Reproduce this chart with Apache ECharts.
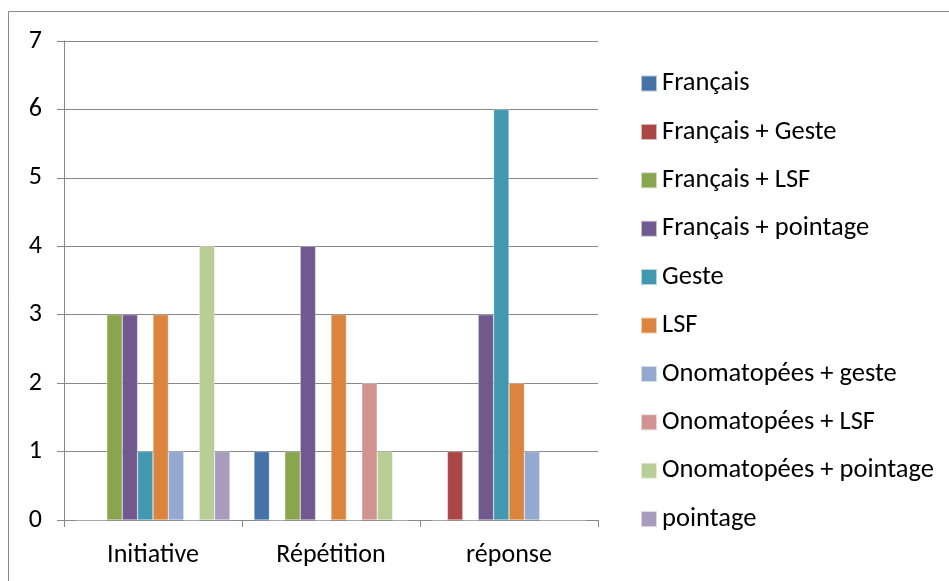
<!DOCTYPE html>
<html lang="fr">
<head>
<meta charset="UTF-8">
<title>Graphique</title>
<script src="https://cdn.jsdelivr.net/npm/echarts@6/dist/echarts.min.js"></script>
<style>
  html, body { margin: 0; padding: 0; background: #fff; }
  #chart { width: 949px; height: 581px; }
</style>
</head>
<body>
<div id="chart"></div>
<script>
// categories (axe x)
var categories = ['Initiative', 'Répétition', 'réponse'];

// séries, une par modalité
var seriesNames = [
  'Français', 'Français + Geste', 'Français + LSF', 'Français + pointage', 'Geste',
  'LSF', 'Onomatopées + geste', 'Onomatopées + LSF', 'Onomatopées + pointage', 'pointage'
];
var francais        = [0, 1, 0];
var francaisGeste   = [0, 0, 1];
var francaisLSF     = [3, 1, 0];
var francaisPoint   = [3, 4, 3];
var geste           = [1, 0, 6];
var lsf             = [3, 3, 2];
var onomGeste       = [1, 0, 1];
var onomLSF         = [0, 2, 0];
var onomPoint       = [4, 1, 0];
var pointage        = [1, 0, 0];

var colors = ['#4572A7', '#AA4643', '#89A54E', '#71588F', '#4198AF',
              '#DB843D', '#93A9CF', '#D19392', '#B9CD96', '#A99BBD'];

var allData = [francais, francaisGeste, francaisLSF, francaisPoint, geste,
               lsf, onomGeste, onomLSF, onomPoint, pointage];

var font = 'Carlito, "Open Sans", "Noto Sans", sans-serif';

var chart = echarts.init(document.getElementById('chart'));
chart.setOption({
  animation: false,
  color: colors,
  textStyle: { fontFamily: font },
  graphic: [{
    type: 'rect',
    shape: { x: 8.5, y: 11.5, width: 960, height: 580 },
    style: { fill: 'none', stroke: '#888', lineWidth: 1 },
    silent: true
  }],
  grid: { left: 64, right: 351, top: 41, bottom: 61 },
  legend: {
    orient: 'vertical',
    left: 635,
    top: 65,
    itemWidth: 16,
    itemHeight: 16,
    itemGap: 21.4,
    icon: 'rect',
    textStyle: { fontSize: 26.5, color: '#000', fontFamily: font },
    data: seriesNames
  },
  xAxis: {
    type: 'category',
    data: categories,
    axisLine: { lineStyle: { color: '#888', width: 1 } },
    axisTick: { show: true, length: 7, lineStyle: { color: '#888' } },
    axisLabel: { fontSize: 26, color: '#000', margin: 22 },
    splitLine: { show: false }
  },
  yAxis: {
    type: 'value',
    min: 0, max: 7, interval: 1,
    axisLine: { show: true, lineStyle: { color: '#888', width: 1 } },
    axisTick: { show: true, length: 7, lineStyle: { color: '#888' } },
    axisLabel: { fontSize: 26, color: '#000', margin: 22 },
    splitLine: { lineStyle: { color: '#888', width: 1 } }
  },
  series: seriesNames.map(function (name, i) {
    return {
      name: name,
      type: 'bar',
      data: allData[i],
      barGap: '0%',
      barCategoryGap: '13.5%',
      itemStyle: { borderColor: 'rgba(255,255,255,0.6)', borderWidth: 0.5 }
    };
  })
});
</script>
</body>
</html>
